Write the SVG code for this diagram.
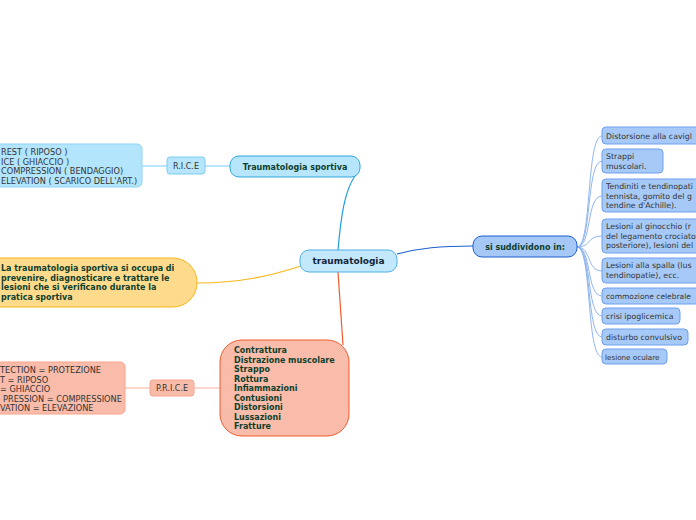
<svg xmlns="http://www.w3.org/2000/svg" width="696" height="520" viewBox="0 0 696 520">
<style>
text{font-family:"DejaVu Sans","Verdana",sans-serif;}
.b{font-weight:bold;fill:#0f3f2c;font-size:8px;}
.r{fill:#333333;}
.s{fill:#333333;font-size:7.8px;}
.con{fill:none;stroke-width:1.2;}
.sub{fill:#a7c9f7;stroke:#6e9fee;stroke-width:1;}
</style>
<rect width="696" height="520" fill="#ffffff"/>
<g id="connectors">
<path class="con" d="M338,250 C341,215 345,190 355,176" stroke="#1e9ee0"/>
<path class="con" d="M230,166 L205,166" stroke="#8fd6f8"/>
<path class="con" d="M167,166 L142,166" stroke="#8fd6f8"/>
<path class="con" d="M301,266 C270,276 240,283 197,283" stroke="#f9b618"/>
<path class="con" d="M338,272 L343,345" stroke="#f15a2b"/>
<path class="con" d="M220,388 L194,388" stroke="#f9bcaa"/>
<path class="con" d="M150,388 L125,388" stroke="#f9bcaa"/>
<path class="con" d="M397,254 C420,248 440,246 473,246" stroke="#1a5fd0" stroke-width="1.4"/>
<g stroke="#8fb5ef" fill="none" stroke-width="1">
<path d="M577,247 C592,247 586,136 602,136"/>
<path d="M577,247 C592,247 586,161 602,161"/>
<path d="M577,247 C592,247 586,196 602,196"/>
<path d="M577,247 C592,247 586,236 602,236"/>
<path d="M577,247 C592,247 586,271 602,271"/>
<path d="M577,247 C592,247 586,296 602,296"/>
<path d="M577,247 C592,247 586,316 602,316"/>
<path d="M577,247 C592,247 586,337 602,337"/>
<path d="M577,247 C592,247 586,357 602,357"/>
</g>
</g>
<g id="traumatologia">
<rect x="300" y="250" width="97" height="22" rx="9" fill="#c3e8fb" stroke="#4fb0e6"/>
<text x="348.5" y="264" text-anchor="middle" font-size="9" font-weight="bold" fill="#12233a">traumatologia</text>
</g>
<g id="traumatologia-sportiva">
<rect x="230" y="156" width="130" height="21" rx="9" fill="#b7e5fb" stroke="#2ea7e0"/>
<text x="295" y="169.5" text-anchor="middle" class="b">Traumatologia sportiva</text>
</g>
<g id="rice">
<rect x="167" y="157" width="38" height="17" rx="3" fill="#b7e5fb" stroke="#7fcbf2"/>
<text x="186" y="168.5" text-anchor="middle" font-size="8" class="r">R.I.C.E</text>
</g>
<g id="rice-list">
<rect x="-10" y="144" width="152" height="43" rx="5" fill="#b3e5fc" stroke="#8fd3f7"/>
<text font-size="8.2" class="r"><tspan x="1" y="155">REST ( RIPOSO )</tspan><tspan x="1" y="164.5">ICE ( GHIACCIO )</tspan><tspan x="1" y="174">COMPRESSION ( BENDAGGIO)</tspan><tspan x="1" y="183.5">ELEVATION ( SCARICO DELL'ART.)</tspan></text>
</g>
<g id="definizione">
<rect x="-30" y="258" width="227" height="49" rx="24" fill="#fedb8c" stroke="#f9b618"/>
<text class="b"><tspan x="1" y="271">La traumatologia sportiva si occupa di</tspan><tspan x="1" y="280.5">prevenire, diagnosticare e trattare le</tspan><tspan x="1" y="290">lesioni che si verificano durante la</tspan><tspan x="1" y="299.5">pratica sportiva</tspan></text>
</g>
<g id="lesioni">
<rect x="220" y="340" width="129" height="96" rx="22" fill="#f9bcaa" stroke="#f15a2b"/>
<text class="b"><tspan x="234" y="353">Contrattura</tspan><tspan x="234" y="362.5">Distrazione muscolare</tspan><tspan x="234" y="372">Strappo</tspan><tspan x="234" y="381.5">Rottura</tspan><tspan x="234" y="391">Infiammazioni</tspan><tspan x="234" y="400.5">Contusioni</tspan><tspan x="234" y="410">Distorsioni</tspan><tspan x="234" y="419.5">Lussazioni</tspan><tspan x="234" y="429">Fratture</tspan></text>
</g>
<g id="price">
<rect x="150" y="380" width="44" height="16" rx="3" fill="#f9bcaa" stroke="#f7a48a"/>
<text x="172" y="391" text-anchor="middle" font-size="8" class="r">P.R.I.C.E</text>
</g>
<g id="price-list">
<rect x="-40" y="362" width="165" height="52" rx="5" fill="#f9bcaa" stroke="#f7a48a"/>
<text font-size="8.2" class="r"><tspan x="0" y="373">TECTION = PROTEZIONE</tspan><tspan x="0" y="382.5">T = RIPOSO</tspan><tspan x="0" y="392">= GHIACCIO</tspan><tspan x="3" y="401.5">PRESSION = COMPRESSIONE</tspan><tspan x="0" y="411">VATION = ELEVAZIONE</tspan></text>
</g>
<g id="si-suddividono">
<rect x="473" y="236" width="104" height="21" rx="9" fill="#a5c8f6" stroke="#1a5fd4"/>
<text x="525" y="249.5" text-anchor="middle" class="b">si suddividono in:</text>
</g>
<g id="n1"><rect class="sub" x="602" y="127" width="110" height="17" rx="4"/><text class="s" x="606" y="138.5">Distorsione alla cavigl</text></g>
<g id="n2"><rect class="sub" x="602" y="149" width="61" height="24" rx="4"/><text class="s"><tspan x="606" y="159">Strappi</tspan><tspan x="606" y="168.5">muscolari.</tspan></text></g>
<g id="n3"><rect class="sub" x="602" y="179" width="110" height="33" rx="4"/><text class="s"><tspan x="606" y="189">Tendiniti e tendinopati</tspan><tspan x="606" y="198.5">tennista, gomito del g</tspan><tspan x="606" y="208">tendine d'Achille).</tspan></text></g>
<g id="n4"><rect class="sub" x="602" y="219" width="110" height="34" rx="4"/><text class="s"><tspan x="606" y="229">Lesioni al ginocchio (r</tspan><tspan x="606" y="238.5">del legamento crociato</tspan><tspan x="606" y="248">posteriore), lesioni del</tspan></text></g>
<g id="n5"><rect class="sub" x="602" y="258" width="110" height="25" rx="4"/><text class="s"><tspan x="606" y="268">Lesioni alla spalla (lus</tspan><tspan x="606" y="277.5">tendinopatie), ecc.</tspan></text></g>
<g id="n6"><rect class="sub" x="602" y="288" width="110" height="16" rx="4"/><text class="s" font-size="7.5" x="606" y="299" style="font-size:7.5px">commozione celebrale</text></g>
<g id="n7"><rect class="sub" x="602" y="308" width="78" height="16" rx="4"/><text class="s" x="606" y="319">crisi ipoglicemica</text></g>
<g id="n8"><rect class="sub" x="602" y="329" width="86" height="16" rx="4"/><text class="s" x="606" y="340">disturbo convulsivo</text></g>
<g id="n9"><rect class="sub" x="602" y="349" width="65" height="15" rx="4"/><text class="r" font-size="7.2" x="605" y="359.5">lesione oculare</text></g>
</svg>
